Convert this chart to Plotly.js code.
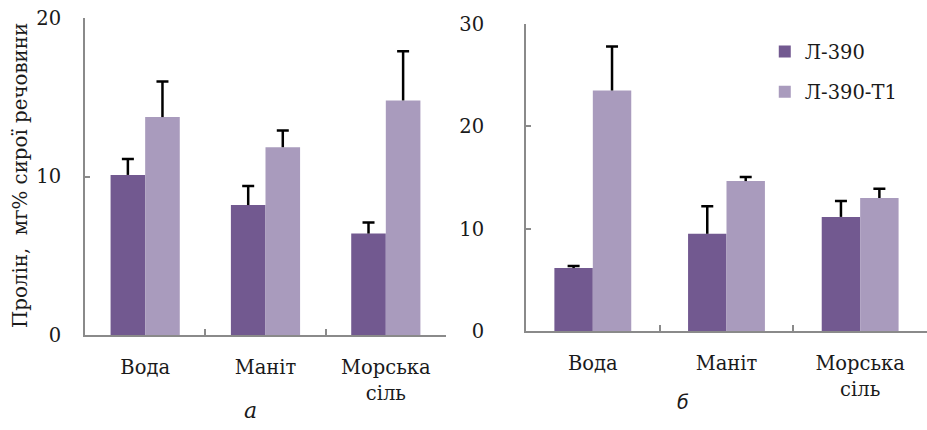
<!DOCTYPE html>
<html>
<head>
<meta charset="utf-8">
<script src="https://cdn.plot.ly/plotly-3.0.1.min.js"></script>
<style>
html,body{margin:0;padding:0;background:#fff;}
#chart{width:927px;height:430px;}
</style>
</head>
<body>
<div id="chart"></div>
<script>
const categories = ["Вода", "Маніт", "Морська<br>сіль"];
const seriesNames = ["Л-390", "Л-390-Т1"];
// panel a
const a_L390 = [10.1, 8.2, 6.4];
const a_L390_err = [1.0, 1.2, 0.7];
const a_T1 = [13.75, 11.85, 14.8];
const a_T1_err = [2.25, 1.05, 3.1];
// panel б
const b_L390 = [6.15, 9.5, 11.15];
const b_L390_err = [0.2, 2.7, 1.55];
const b_T1 = [23.5, 14.65, 13.0];
const b_T1_err = [4.3, 0.4, 0.9];
const yTicksA = [0, 10, 20];
const yTicksB = [0, 10, 20, 30];

const cDark = "#725990";
const cLight = "#A99BBD";
const serif = "DejaVu Serif";
const zeros = [0, 0, 0];

function bar(y, err, name, color, xa, ya, showleg, grp) {
  return {
    type: "bar", x: categories, y: y, name: name, xaxis: xa, yaxis: ya,
    offsetgroup: grp,
    marker: {color: color, line: {width: 0}},
    showlegend: showleg, legendgroup: grp,
    error_y: {type: "data", symmetric: false, array: err, arrayminus: zeros,
              color: "#000", thickness: 2.5, width: 0},
    hoverinfo: "skip"
  };
}
// invisible bar reaching the top of the error bar, only used to draw the cap
function cap(y, err, xa, ya, grp) {
  return {
    type: "bar", x: categories, y: y.map((v, i) => v + err[i]), xaxis: xa, yaxis: ya,
    offsetgroup: grp, showlegend: false,
    marker: {color: "rgba(0,0,0,0)", line: {width: 0}},
    error_y: {type: "data", symmetric: false, array: zeros, arrayminus: zeros,
              color: "#000", thickness: 2.5, width: 6},
    hoverinfo: "skip"
  };
}

const data = [
  bar(a_L390, a_L390_err, seriesNames[0], cDark, "x", "y", false, "g1"),
  bar(a_T1, a_T1_err, seriesNames[1], cLight, "x", "y", false, "g2"),
  cap(a_L390, a_L390_err, "x", "y", "g1"),
  cap(a_T1, a_T1_err, "x", "y", "g2"),
  bar(b_L390, b_L390_err, seriesNames[0], cDark, "x2", "y2", true, "g1"),
  bar(b_T1, b_T1_err, seriesNames[1], cLight, "x2", "y2", true, "g2"),
  cap(b_L390, b_L390_err, "x2", "y2", "g1"),
  cap(b_T1, b_T1_err, "x2", "y2", "g2")
];

const axisLine = "#8a8a8a";
const tickFont = {family: serif, size: 19.5, color: "#1a1a1a"};
function xax(domain, anchor, standoff) {
  return {domain: domain, anchor: anchor, type: "category",
    showline: true, linecolor: axisLine, linewidth: 2,
    ticks: "inside", ticklen: 6, tickwidth: 2, tickcolor: axisLine, tickson: "boundaries",
    showgrid: false, zeroline: false, tickfont: tickFont, ticklabelstandoff: standoff,
    fixedrange: true};
}
function yax(domain, anchor, range, tv, standoff) {
  return {domain: domain, anchor: anchor, range: range, tickvals: tv,
    showline: true, linecolor: axisLine, linewidth: 2,
    ticks: "inside", ticklen: 5, tickwidth: 2, tickcolor: axisLine,
    showgrid: false, zeroline: false, tickfont: tickFont, ticklabelstandoff: standoff,
    fixedrange: true};
}

const layout = {
  width: 927, height: 430,
  font: {family: serif, size: 20, color: "#1a1a1a"},
  margin: {l: 0, r: 0, t: 0, b: 0},
  paper_bgcolor: "#fff", plot_bgcolor: "rgba(0,0,0,0)",
  barmode: "group", bargap: 0.425, bargroupgap: 0,
  showlegend: true,
  legend: {x: 0.825, y: 0.925, xanchor: "left", yanchor: "top",
    font: {family: serif, size: 19.5, color: "#1a1a1a"},
    traceorder: "grouped", tracegroupgap: 12, itemwidth: 30,
    bgcolor: "rgba(0,0,0,0)"},
  xaxis: xax([0.0917, 0.4811], "y", 14),
  yaxis: yax([0.2209, 0.9581], "x", [0, 20], yTicksA, 18),
  xaxis2: xax([0.5674, 1.0], "y2", 14),
  yaxis2: yax([0.2302, 0.9442], "x2", [0, 30], yTicksB, 36),
  annotations: [
    {text: "Пролін,  мг% сирої речовини", textangle: -90, xref: "paper", yref: "paper",
     x: 20/927, y: 1 - 176/430, xanchor: "center", yanchor: "middle", showarrow: false,
     font: {family: serif, size: 19.8, color: "#1a1a1a"}},
    {text: "а", xref: "paper", yref: "paper", x: 250/927, y: 1 - 410/430,
     xanchor: "center", yanchor: "middle", showarrow: false,
     font: {family: serif, style: "italic", size: 22, color: "#1a1a1a"}},
    {text: "б", xref: "paper", yref: "paper", x: 683/927, y: 1 - 402/430,
     xanchor: "center", yanchor: "middle", showarrow: false,
     font: {family: "DejaVu Sans", style: "italic", size: 19, color: "#1a1a1a"}}
  ]
};

Plotly.newPlot("chart", data, layout, {displayModeBar: false, staticPlot: true});
</script>
</body>
</html>
